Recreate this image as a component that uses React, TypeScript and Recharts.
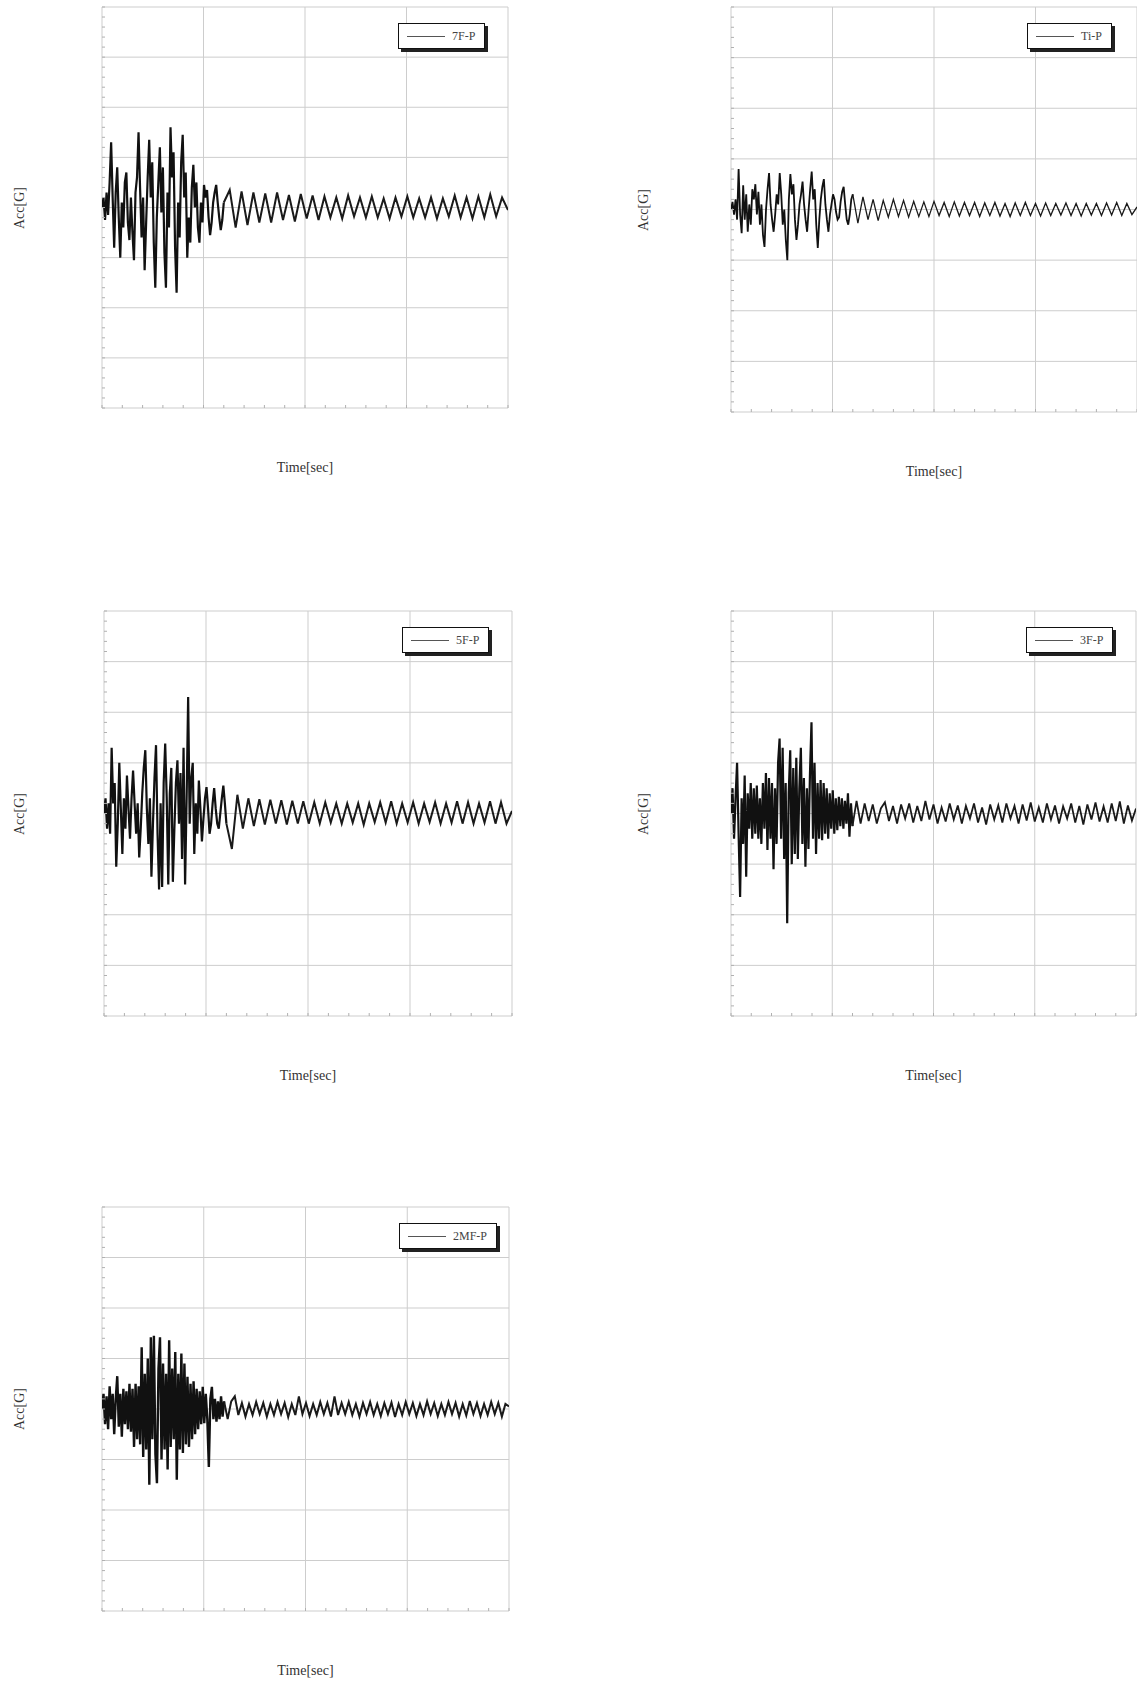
import React from 'react';
import { LineChart, Line, XAxis, YAxis, CartesianGrid, Legend } from 'recharts';

// time axis (sec) and acceleration axis (grid units)
const T_MAX = 40;
const BURST_END = 12;
const timeTicks = [0, 10, 20, 30, 40];
const timeMinorTicks = [0, 2, 4, 6, 8, 10, 12, 14, 16, 18, 20, 22, 24, 26, 28, 30, 32, 34, 36, 38, 40];
const accTicks = [-4, -3, -2, -1, 0, 1, 2, 3, 4];
const accMinorTicks = [
  -4, -3.8, -3.6, -3.4, -3.2, -3, -2.8, -2.6, -2.4, -2.2, -2, -1.8, -1.6, -1.4, -1.2, -1, -0.8, -0.6, -0.4, -0.2,
  0, 0.2, 0.4, 0.6, 0.8, 1, 1.2, 1.4, 1.6, 1.8, 2, 2.2, 2.4, 2.6, 2.8, 3, 3.2, 3.4, 3.6, 3.8, 4,
];

// strong-motion part (0..12 s), then free-vibration tail (12..40 s)
const acc7FBurst = [
  0, 0.2, -0.25, 0.3, -0.15, 0.5, 1.3, 0.2, -0.8, 0.3, 0.8, -0.2, -1.0, 0.1, -0.4, 0.5, 0.7, -0.3, -0.65, 0.2,
  -0.5, -1.05, 0.3, 0.6, 1.5, 0.4, -0.6, 0.2, -1.25, -0.3, 0.6, 1.35, 0.2, 0.9, -0.7, -1.6, -0.2, 0.5, 1.2, -0.1,
  0.8, -0.9, -1.6, 0.3, -0.4, 1.6, 0.6, 1.1, -0.8, -1.7, 0.1, -0.6, 0.9, 1.45, 0.2, 0.7, -1.0, -0.2, -0.7, 0.4,
  0.85, 0.0, 0.5, -0.4, -0.7, 0.1, -0.3, 0.45, 0.2, 0.35, -0.2, -0.55, -0.3, 0.1, 0.3, 0.45, 0.1, -0.2, -0.45, -0.25,
  0.1,
];
const acc7FTail = [
  0.35, -0.4, 0.32, -0.35, 0.3, -0.3, 0.28, -0.3, 0.3, -0.25, 0.25, -0.28, 0.27, -0.22, 0.24, -0.25, 0.22, -0.2,
  0.2, -0.22, 0.24, -0.18, 0.2, -0.2, 0.22, -0.2, 0.18, -0.22, 0.2, -0.18, 0.22, -0.2, 0.18, -0.2, 0.2, -0.22,
  0.18, -0.18, 0.24, -0.2, 0.2, -0.22, 0.22, -0.2, 0.26, -0.18, 0.2, -0.05,
];

const accTiBurst = [
  0, 0.15, -0.1, 0.2, -0.2, 0.8, -0.1, -0.47, 0.48, -0.2, 0.3, -0.44, 0.1, -0.3, 0.4, 0.2, 0.5, -0.1, 0.35, -0.3,
  0.1, -0.5, -0.74, 0.0, 0.4, 0.72, 0.1, -0.2, -0.44, -0.1, 0.3, 0.1, 0.72, 0.3, -0.3, 0.0, -0.6, -1.0, 0.2, 0.7,
  0.3, 0.5, -0.2, -0.6, -0.3, 0.1, 0.3, 0.55, 0.1, -0.2, -0.44, 0.0, 0.4, 0.75, 0.2, 0.4, -0.3, -0.76, -0.2, 0.2,
  0.45, 0.6, 0.1, -0.2, -0.44, -0.1, 0.1, 0.3, 0.2, -0.05, -0.2, -0.15, 0.15, 0.35, 0.45, 0.1, -0.2, -0.3, -0.1, 0.2,
  0.3,
];
const accTiTail = [
  -0.27, 0.25, -0.2, 0.2, -0.22, 0.18, -0.15, 0.2, -0.14, 0.18, -0.15, 0.16, -0.14, 0.15, -0.14, 0.16, -0.12, 0.14,
  -0.14, 0.15, -0.13, 0.14, -0.12, 0.14, -0.14, 0.13, -0.12, 0.14, -0.13, 0.12, -0.14, 0.13, -0.12, 0.14, -0.12,
  0.12, -0.13, 0.13, -0.12, 0.12, -0.11, 0.13, -0.12, 0.12, -0.13, 0.12, -0.11, 0.12, -0.12, 0.13, -0.11, 0.14,
  -0.12, 0.12, -0.1, 0.05,
];

const acc5FBurst = [
  0, 0.3, -0.3, 0.2, -0.4, 1.3, 0.2, 0.6, -1.05, -0.2, 1.0, 0.1, -0.8, 0.3, -0.3, 0.75, 0.1, -0.5, 0.3, 0.85,
  0.2, -0.4, 0.2, -0.87, -0.3, 0.4, 0.9, 1.25, 0.1, -0.6, 0.3, -1.25, -0.2, 0.7, 1.35, -0.4, -1.5, 0.2, -1.45, 0.6,
  1.38, 0.3, -1.4, 0.4, 0.9, -1.35, -0.3, 0.6, 1.05, -0.2, 0.8, -0.9, 1.3, -1.4, 0.3, 2.3, -0.2, 0.7, 1.0, -0.8,
  0.2, -0.4, 0.65, 0.1, -0.55, -0.1, 0.3, 0.52, 0.1, -0.4, -0.2, 0.2, 0.5, 0.1, -0.2, -0.3, 0.0, 0.3, 0.55, 0.2,
  -0.2,
];
const acc5FTail = [
  -0.7, 0.37, -0.3, 0.3, -0.25, 0.28, -0.22, 0.27, -0.2, 0.26, -0.22, 0.25, -0.2, 0.24, -0.2, 0.22, -0.2, 0.22,
  -0.18, 0.2, -0.2, 0.2, -0.18, 0.2, -0.22, 0.2, -0.17, 0.22, -0.18, 0.24, -0.2, 0.2, -0.18, 0.22, -0.2, 0.2,
  -0.17, 0.22, -0.2, 0.2, -0.18, 0.24, -0.2, 0.22, -0.2, 0.2, -0.18, 0.24, -0.2, 0.22, -0.2, 0.05,
];

const acc3FBurst = [
  0, 0.5, -0.5, 0.3, 1.0, -0.4, -1.65, 0.3, -0.6, 0.75, -1.25, 0.4, -0.3, 0.6, -0.5, 0.5, -0.4, 0.55, -0.5, 0.3,
  -0.6, 0.6, -0.3, 0.8, -0.72, 0.7, -0.5, 0.6, -1.1, 0.5, -0.6, 1.0, 1.48, -0.5, 1.3, -0.9, 0.6, -2.17, 0.4, 1.25,
  -1.0, 0.9, -0.8, 1.1, -0.9, 0.5, 1.3, -0.6, 0.7, -1.05, 0.5, -0.7, 0.8, 1.8, -0.5, 1.0, -0.8, 0.6, -0.5, 0.66,
  -0.53, 0.6, -0.4, 0.5, -0.5, 0.4, -0.3, 0.46, -0.4, 0.3, -0.33, 0.33, -0.25, 0.3, -0.3, 0.25, -0.2, 0.4, -0.46, 0.2,
  -0.25,
];
const acc3FTail = [
  0.25, -0.2, 0.2, -0.15, 0.18, -0.2, 0.1, 0.22, -0.15, 0.15, -0.2, 0.18, -0.1, 0.2, -0.18, 0.15, -0.15, 0.25,
  -0.12, 0.18, -0.2, 0.12, -0.16, 0.2, -0.12, 0.16, -0.2, 0.15, -0.1, 0.2, -0.18, 0.12, -0.22, 0.18, -0.12, 0.16,
  -0.18, 0.2, -0.1, 0.15, -0.2, 0.18, -0.14, 0.22, -0.16, 0.12, -0.18, 0.2, -0.12, 0.16, -0.2, 0.14, -0.1, 0.2,
  -0.18, 0.15, -0.22, 0.18, -0.12, 0.22, -0.16, 0.14, -0.18, 0.2, -0.15, 0.24, -0.2, 0.16, -0.14, 0.1,
];

const acc2MFBurst = [
  0, 0.3, -0.3, 0.25, -0.4, 0.45, -0.2, 0.3, -0.5, 0.2, 0.65, -0.35, 0.3, -0.55, 0.4, -0.3, 0.35, -0.4, 0.5, -0.45,
  0.4, -0.75, 0.5, -0.6, 0.45, -0.7, 1.22, -0.95, 0.7, -0.8, 1.0, -1.5, 1.42, -0.6, 1.45, -0.9, -1.47, 0.8, 1.42, -1.0,
  0.9, -0.8, 0.7, -1.2, 1.36, -0.75, 0.8, -0.6, 1.13, -1.4, 0.7, -0.8, 1.1, -0.87, 0.9, -0.7, 0.64, -0.75, 0.5, -0.6,
  0.55, -0.5, 0.4, -0.4, 0.35, -0.3, 0.44, -0.28, 0.3, -0.2, -1.15, 0.2, 0.44, -0.2, 0.2, -0.25, 0.15, -0.2, 0.25, -0.15,
  0.15,
];
const acc2MFTail = [
  -0.2, 0.15, 0.25, -0.12, 0.12, -0.15, 0.1, -0.12, 0.14, -0.1, 0.12, -0.15, 0.1, -0.12, 0.14, -0.1, 0.12, -0.16,
  0.1, -0.12, 0.25, -0.1, 0.12, -0.14, 0.1, -0.12, 0.14, -0.1, 0.12, -0.15, 0.25, -0.12, 0.12, -0.1, 0.14, -0.12,
  0.1, -0.15, 0.12, -0.1, 0.14, -0.12, 0.1, -0.14, 0.12, -0.1, 0.13, -0.16, 0.1, -0.12, 0.14, -0.1, 0.12, -0.14,
  0.1, -0.12, 0.15, -0.1, 0.12, -0.14, 0.1, -0.12, 0.14, -0.1, 0.12, -0.15, 0.1, -0.13, 0.16, -0.1, 0.12, -0.14,
  0.1, -0.12, 0.14, -0.1, 0.12, -0.15, 0.1, 0.05,
];

const seriesNames = ['7F-P', 'Ti-P', '5F-P', '3F-P', '2MF-P'];

type Point = { t: number; burst?: number; tail?: number };

// burst and tail share the point at BURST_END so the trace is continuous
function buildSeries(burst: number[], tail: number[]): Point[] {
  const bStep = BURST_END / (burst.length - 1);
  const tStep = (T_MAX - BURST_END) / tail.length;
  const last = burst.length - 1;
  return [
    ...burst.map((v, i) => (i === last ? { t: i * bStep, burst: v, tail: v } : { t: i * bStep, burst: v })),
    ...tail.map((v, k) => ({ t: BURST_END + (k + 1) * tStep, tail: v })),
  ];
}

// plot rectangles on the page
const panels = [
  { name: seriesNames[0], burst: acc7FBurst, tail: acc7FTail, left: 102, top: 7, w: 406, h: 401, accX: 20, burstWidth: 2.2, tailWidth: 2 },
  { name: seriesNames[1], burst: accTiBurst, tail: accTiTail, left: 731, top: 7, w: 406, h: 405, accX: 644, burstWidth: 1.8, tailWidth: 1.3 },
  { name: seriesNames[2], burst: acc5FBurst, tail: acc5FTail, left: 104, top: 611, w: 408, h: 405, accX: 20, burstWidth: 2.2, tailWidth: 2 },
  { name: seriesNames[3], burst: acc3FBurst, tail: acc3FTail, left: 731, top: 611, w: 405, h: 405, accX: 644, burstWidth: 2.2, tailWidth: 1.8 },
  { name: seriesNames[4], burst: acc2MFBurst, tail: acc2MFTail, left: 102, top: 1207, w: 407, h: 404, accX: 20, burstWidth: 2.4, tailWidth: 2 },
];

const FONT = "'Liberation Serif', 'Times New Roman', serif";
const PAD = 2;

// minor axes draw only their tick marks
const NoLabel = () => null;

const LegendBox = ({ payload }: any) => {
  const item = payload && payload[0];
  return (
    <div
      style={{
        display: 'flex',
        alignItems: 'center',
        height: 24,
        padding: '0 9px 0 8px',
        border: '1px solid #111',
        background: '#fff',
        boxShadow: '3px 3px 0 #222',
        fontFamily: FONT,
        fontSize: 12,
        color: '#444',
        whiteSpace: 'nowrap',
      }}
    >
      <span style={{ display: 'inline-block', width: 38, borderTop: '1px solid #555', marginRight: 7 }} />
      {item ? item.value : ''}
    </div>
  );
};

const Panel = ({ p }: { p: (typeof panels)[number] }) => {
  const data = buildSeries(p.burst, p.tail);
  return (
    <>
      <div style={{ position: 'absolute', left: p.left - PAD, top: p.top - PAD }}>
        <LineChart width={p.w + PAD * 2} height={p.h + PAD * 2} data={data} margin={{ top: PAD, right: PAD, bottom: PAD, left: PAD }}>
          <CartesianGrid stroke="#cdcdcd" strokeWidth={1} />
          <XAxis type="number" dataKey="t" domain={[0, T_MAX]} ticks={timeTicks} allowDataOverflow hide />
          <YAxis type="number" domain={[-4, 4]} ticks={accTicks} allowDataOverflow hide />
          <XAxis
            xAxisId="minor"
            type="number"
            dataKey="t"
            domain={[0, T_MAX]}
            ticks={timeMinorTicks}
            interval={0}
            allowDataOverflow
            mirror
            tick={NoLabel}
            tickSize={3}
            tickLine={{ stroke: '#b0b0b0' }}
            axisLine={false}
          />
          <YAxis
            yAxisId="minor"
            type="number"
            domain={[-4, 4]}
            ticks={accMinorTicks}
            interval={0}
            allowDataOverflow
            mirror
            tick={NoLabel}
            tickSize={3}
            tickLine={{ stroke: '#b0b0b0' }}
            axisLine={false}
          />
          <Legend
            layout="vertical"
            align="center"
            verticalAlign="middle"
            content={<LegendBox />}
            wrapperStyle={{ left: p.w + PAD - 110, top: 16 + PAD, width: 'auto', height: 'auto' }}
          />
          <Line
            type="linear"
            dataKey="burst"
            name={p.name}
            stroke="#111"
            strokeWidth={p.burstWidth}
            dot={false}
            activeDot={false}
            isAnimationActive={false}
          />
          <Line
            type="linear"
            dataKey="tail"
            name={p.name}
            legendType="none"
            stroke="#1a1a1a"
            strokeWidth={p.tailWidth}
            dot={false}
            activeDot={false}
            isAnimationActive={false}
          />
        </LineChart>
      </div>
      <div
        style={{
          position: 'absolute',
          left: p.accX,
          top: p.top + p.h / 2,
          transform: 'translate(-50%, -50%) rotate(-90deg)',
          fontFamily: FONT,
          fontSize: 14,
          color: '#333',
          whiteSpace: 'nowrap',
        }}
      >
        Acc[G]
      </div>
      <div
        style={{
          position: 'absolute',
          left: p.left + p.w / 2,
          top: p.top + p.h + 60,
          transform: 'translate(-50%, -50%)',
          fontFamily: FONT,
          fontSize: 14,
          color: '#333',
          whiteSpace: 'nowrap',
        }}
      >
        Time[sec]
      </div>
    </>
  );
};

export default function App() {
  return (
    <div style={{ position: 'absolute', left: 0, top: 0, width: 1137, height: 1684, overflow: 'hidden', background: '#fff' }}>
      {panels.map((p) => (
        <Panel key={p.name} p={p} />
      ))}
    </div>
  );
}
